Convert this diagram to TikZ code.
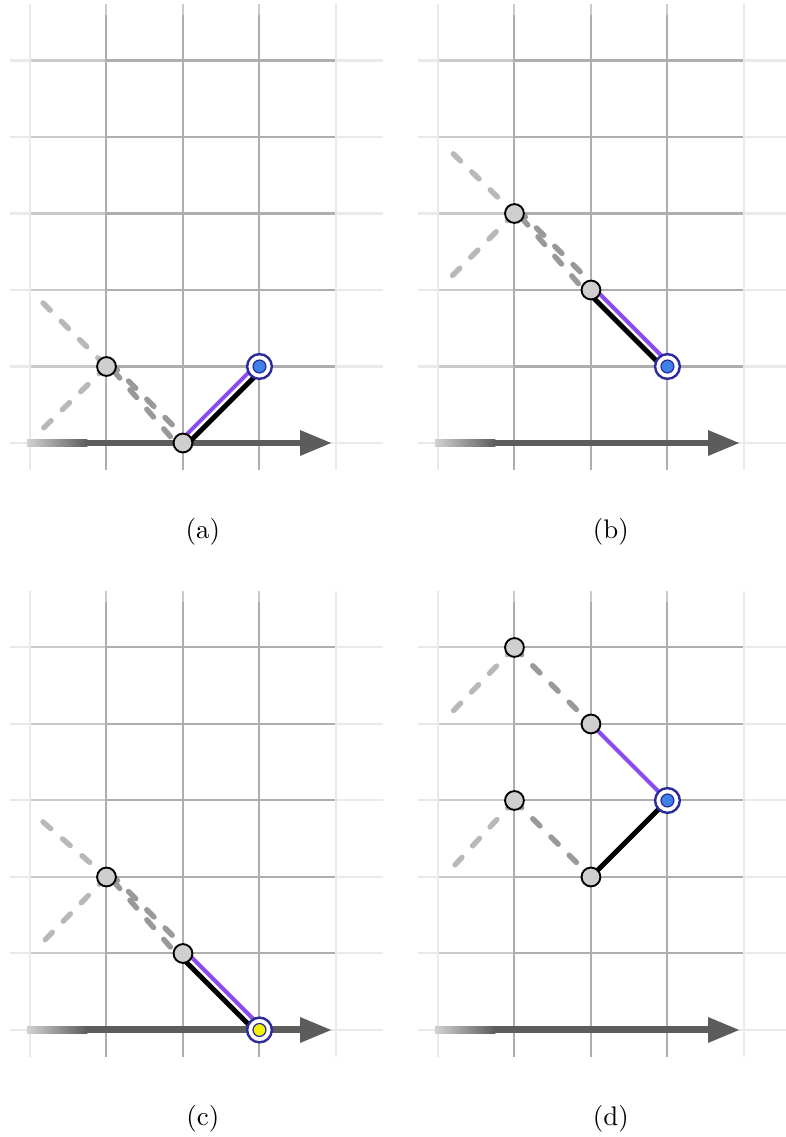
\documentclass[tikz,border=0pt]{standalone}
\usetikzlibrary{arrows.meta}
\definecolor{gridink}{HTML}{AEAEAE}
\definecolor{gridmid}{HTML}{CACACA}
\definecolor{gridfaint}{HTML}{E9E9E9}
\definecolor{axisgray}{HTML}{5C5C5C}
\definecolor{axisfade}{HTML}{D2D2D2}
\definecolor{jointfill}{HTML}{CFCFCF}
\definecolor{ringblue}{HTML}{2B2B9C}
\definecolor{dotblue}{HTML}{3F7FE8}
\definecolor{dotyellow}{HTML}{F2F200}
\definecolor{armpurple}{HTML}{8A4CF0}
\definecolor{ghost}{HTML}{999999}
\definecolor{ghostlight}{HTML}{B8B8B8}
\pgfdeclarelayer{gridlayer}
\pgfdeclarelayer{tracelayer}
\pgfsetlayers{gridlayer,tracelayer,main}

\begin{document}
\begin{tikzpicture}[
  gridrule/.style={draw=gridink, line width=0.75pt},
  gridsoft/.style={draw=gridmid, line width=0.75pt},
  gridedge/.style={draw=gridfaint, line width=0.75pt},
  axis/.style={draw=axisgray, line width=2.6pt, -{Triangle[length=0.42cm,width=0.31cm]}},
  joint/.style={
    circle,
    draw=black,
    line width=0.7pt,
    fill=jointfill,
    minimum size=7pt,
    inner sep=0pt
  },
  target/.style={
    circle,
    draw=ringblue,
    line width=0.9pt,
    fill=white,
    minimum size=9.2pt,
    inner sep=0pt,
    path picture={\filldraw[fill=#1, draw=ringblue, line width=0.45pt] (path picture bounding box.center) circle (2.4pt);}
  },
  target/.default=dotblue,
  goal/.style={target=dotyellow},
  armline/.style={draw=black, line width=1.85pt},
  armhigh/.style={draw=armpurple, line width=1.5pt},
  ghostline/.style={draw=ghost, line width=2pt, line cap=round, dash pattern=on 3.8pt off 5.8pt},
  ghostfaint/.style={ghostline, draw=ghostlight},
  caption/.style={font=\normalsize}
]
\useasboundingbox (-0.392,-9.072) rectangle (9.882,5.791);

% Grids and axes of the four panels
\begin{pgfonlayer}{gridlayer}
\foreach \dx/\dy in {0/0, 5.333/0, 0/-7.673, 5.333/-7.673} {
  \begin{scope}[shift={(\dx,\dy)}]
    \foreach \y in {0,...,5} {
      \draw[gridedge] (-0.26,\y) -- (4.61,\y);
    }
    \foreach \y in {1,...,5} {
      \draw[gridsoft] (0,\y) -- (1,\y);
      \draw[gridrule] (1,\y) -- (4,\y);
    }
    \foreach \x in {0,4} {
      \draw[gridedge] (\x,-0.35) -- (\x,5.74);
    }
    \foreach \x in {1,2,3} {
      \draw[gridrule] (\x,-0.35) -- (\x,5.6);
      \draw[gridsoft] (\x,5.6) -- (\x,5.74);
    }
    \shade[left color=axisfade, right color=axisgray] (-0.04,-0.046) rectangle (0.75,0.046);
    \draw[axis] (0.74,0) -- (3.95,0);
  \end{scope}
}
\end{pgfonlayer}

% Panel (a)
\coordinate (a-tail) at (0.17,1.83);
\coordinate (a-end) at (0.13,0.15);
\node[joint] (a-j1) at (1,1) {};
\node[joint] (a-j2) at (2,0) {};
\node[target] (a-t) at (3,1) {};
\begin{pgfonlayer}{tracelayer}
\draw[ghostfaint] (a-tail) -- (a-j1.center);
\draw[ghostfaint] (a-j1.center) -- (a-end);
\draw[ghostline] ([shift={(1.4pt,1.4pt)}]a-j1.center) -- ([shift={(1.4pt,1.4pt)}]a-j2.center);
\draw[ghostline] ([shift={(-1.4pt,-1.4pt)}]a-j1.east) -- ([shift={(-1.4pt,-1.4pt)}]a-j2.center);
\draw[armline] ([shift={(1pt,-1pt)}]a-j2.center) -- ([shift={(1pt,-1pt)}]a-t.center);
\draw[armhigh] ([shift={(-0.9pt,0.9pt)}]a-j2.center) -- ([shift={(-0.9pt,0.9pt)}]a-t.center);
\end{pgfonlayer}
\node[caption] (a-cap) at (2.26,-1.16) {(a)};

% Panel (b)
\begin{scope}[xshift=5.333cm]
\coordinate (b-tail) at (0.2,3.78);
\coordinate (b-end) at (0.16,2.16);
\node[joint] (b-j1) at (1,3) {};
\node[joint] (b-j2) at (2,2) {};
\node[target] (b-t) at (3,1) {};
\begin{pgfonlayer}{tracelayer}
\draw[ghostfaint] (b-tail) -- (b-j1.center);
\draw[ghostfaint] (b-j1.center) -- (b-end);
\draw[ghostline] ([shift={(1.4pt,1.4pt)}]b-j1.center) -- ([shift={(1.4pt,1.4pt)}]b-j2.center);
\draw[ghostline] ([shift={(-1.4pt,-1.4pt)}]b-j1.east) -- ([shift={(-1.4pt,-1.4pt)}]b-j2.center);
\draw[armline] ([shift={(-1pt,-1pt)}]b-j2.center) -- ([shift={(-1pt,-1pt)}]b-t.center);
\draw[armhigh] ([shift={(0.9pt,0.9pt)}]b-j2.center) -- ([shift={(0.9pt,0.9pt)}]b-t.center);
\end{pgfonlayer}
\node[caption] (b-cap) at (2.26,-1.16) {(b)};
\end{scope}

% Panel (c)
\begin{scope}[yshift=-7.673cm]
\coordinate (c-tail) at (0.17,2.72);
\coordinate (c-end) at (0.13,1.11);
\node[joint] (c-j1) at (1,2) {};
\node[joint] (c-j2) at (2,1) {};
\node[goal] (c-t) at (3,0) {};
\begin{pgfonlayer}{tracelayer}
\draw[ghostfaint] (c-tail) -- (c-j1.center);
\draw[ghostfaint] (c-j1.center) -- (c-end);
\draw[ghostline] ([shift={(1.4pt,1.4pt)}]c-j1.center) -- ([shift={(1.4pt,1.4pt)}]c-j2.center);
\draw[ghostline] ([shift={(-1.4pt,-1.4pt)}]c-j1.east) -- ([shift={(-1.4pt,-1.4pt)}]c-j2.center);
\draw[armline] ([shift={(-1pt,-1pt)}]c-j2.center) -- ([shift={(-1pt,-1pt)}]c-t.center);
\draw[armhigh] ([shift={(0.9pt,0.9pt)}]c-j2.center) -- ([shift={(0.9pt,0.9pt)}]c-t.center);
\end{pgfonlayer}
\node[caption] (c-cap) at (2.26,-1.16) {(c)};
\end{scope}

% Panel (d)
\begin{scope}[shift={(5.333,-7.673)}]
\coordinate (d-end1) at (0.16,4.13);
\coordinate (d-end2) at (0.16,2.09);
\node[joint] (d-j1) at (1,5) {};
\node[joint] (d-j2) at (2,4) {};
\node[joint] (d-j3) at (1,3) {};
\node[joint] (d-j4) at (2,2) {};
\node[target] (d-t) at (3,3) {};
\begin{pgfonlayer}{tracelayer}
\draw[ghostfaint] (d-j1.center) -- (d-end1);
\draw[ghostfaint] (d-j3.center) -- (d-end2);
\draw[ghostline] (d-j1.center) -- (d-j2.center);
\draw[ghostline] (d-j3.center) -- (d-j4.center);
\draw[armhigh] (d-j2.center) -- (d-t.center);
\draw[armline] (d-j4.center) -- (d-t.center);
\end{pgfonlayer}
\node[caption] (d-cap) at (2.26,-1.16) {(d)};
\end{scope}

\end{tikzpicture}
\end{document}
